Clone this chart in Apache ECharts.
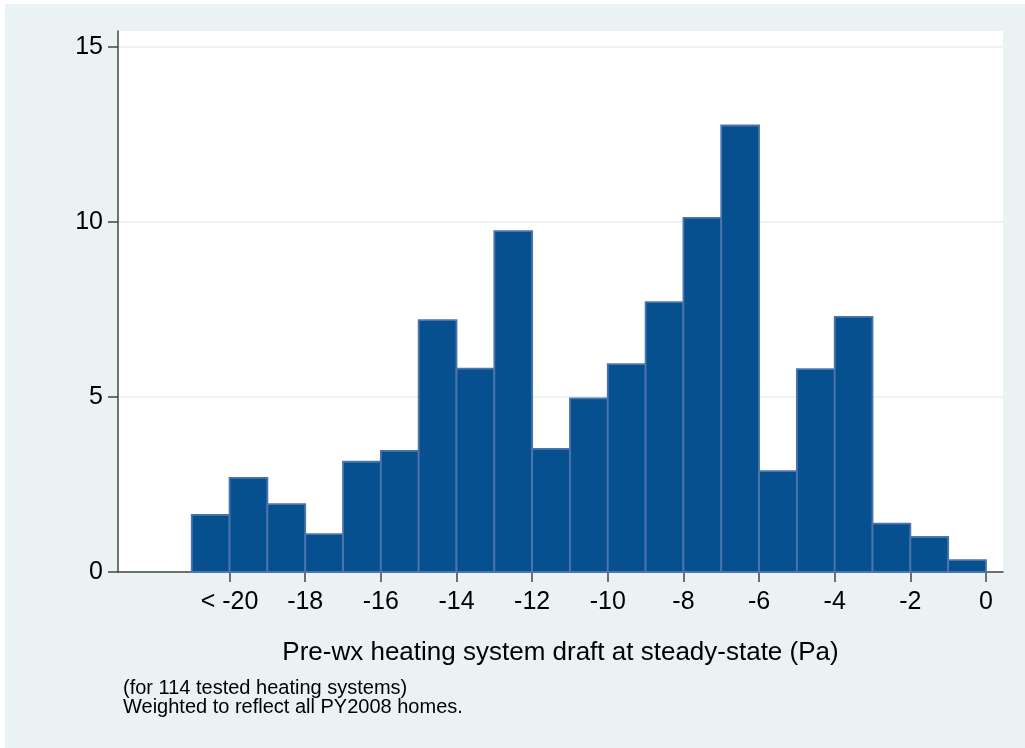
<!DOCTYPE html>
<html>
<head>
<meta charset="utf-8">
<script src="https://cdn.jsdelivr.net/npm/echarts@6/dist/echarts.min.js"></script>
<style>
  html, body { margin: 0; padding: 0; background: #ffffff; }
  #bg { position: absolute; left: 5px; top: 4px; width: 1020px; height: 744px; background: #eaf2f3; }
  #chart { position: absolute; left: 0; top: 0; width: 1025px; height: 748px; }
</style>
</head>
<body>
<div id="bg"></div>
<div id="chart"></div>
<script>
// Histogram bins: left edges (Pa), bin width, and heights (percent)
const binStarts = [-21, -20, -19, -18, -17, -16, -15, -14, -13, -12, -11, -10, -9, -8, -7, -6, -5, -4, -3, -2, -1];
const binWidth = 1;
const heights = [1.63, 2.69, 1.94, 1.08, 3.15, 3.46, 7.2, 5.81, 9.74, 3.52, 4.96, 5.94, 7.71, 10.12, 12.76, 2.88, 5.8, 7.29, 1.38, 1.0, 0.34];
const xTicks = [-20, -18, -16, -14, -12, -10, -8, -6, -4, -2, 0];
const yTicks = [0, 5, 10, 15];
const xTitle = 'Pre-wx heating system draft at steady-state (Pa)';
const noteLines = ['(for 114 tested heating systems)', 'Weighted to reflect all PY2008 homes.'];

const FONT = '"Liberation Sans", Arial, Helvetica, sans-serif';
const chart = echarts.init(document.getElementById('chart'));

const data = binStarts.map((s, i) => [s, s + binWidth, heights[i]]);

chart.setOption({
  backgroundColor: 'transparent',
  animation: false,
  textStyle: { fontFamily: FONT },
  grid: {
    left: 118, right: 22, top: 31, bottom: 176,
    show: true, backgroundColor: '#ffffff', borderWidth: 0
  },
  xAxis: {
    type: 'value',
    min: -22.95,
    max: 0.45,
    name: xTitle,
    nameLocation: 'middle',
    nameGap: 68,
    nameTextStyle: { fontSize: 26, color: '#000', fontFamily: FONT },
    axisLine: { show: true, onZero: false, lineStyle: { color: '#444', width: 1.5 } },
    axisTick: { show: true, length: 10, customValues: xTicks, lineStyle: { color: '#444', width: 1.5 } },
    axisLabel: {
      customValues: xTicks,
      fontSize: 25, color: '#000', fontFamily: FONT, margin: 18,
      formatter: v => (v === -20 ? '< -20' : String(v))
    },
    splitLine: { show: false }
  },
  yAxis: {
    type: 'value',
    min: 0,
    max: 15.46,
    interval: 5,
    position: 'left',
    axisLine: { show: true, onZero: false, lineStyle: { color: '#444', width: 1.5 } },
    axisTick: { show: true, length: 10, customValues: yTicks, lineStyle: { color: '#444', width: 1.5 } },
    axisLabel: {
      customValues: yTicks,
      fontSize: 25, color: '#000', fontFamily: FONT, margin: 15
    },
    splitLine: { show: true, lineStyle: { color: '#e6eff1', width: 1.5 } }
  },
  series: [{
    type: 'custom',
    data: data,
    encode: { x: [0, 1], y: 2 },
    renderItem: function (params, api) {
      const p0 = api.coord([api.value(0), 0]);
      const p1 = api.coord([api.value(1), api.value(2)]);
      return {
        type: 'rect',
        shape: { x: p0[0], y: p1[1], width: p1[0] - p0[0], height: p0[1] - p1[1] },
        style: { fill: '#07508f', stroke: '#4d75ad', lineWidth: 1.8 }
      };
    }
  }],
  graphic: [{
    type: 'text',
    left: 123,
    top: 678,
    style: {
      text: noteLines.join('\n'),
      font: '20px ' + FONT,
      lineHeight: 19.5,
      fill: '#000'
    }
  }]
});
</script>
</body>
</html>
